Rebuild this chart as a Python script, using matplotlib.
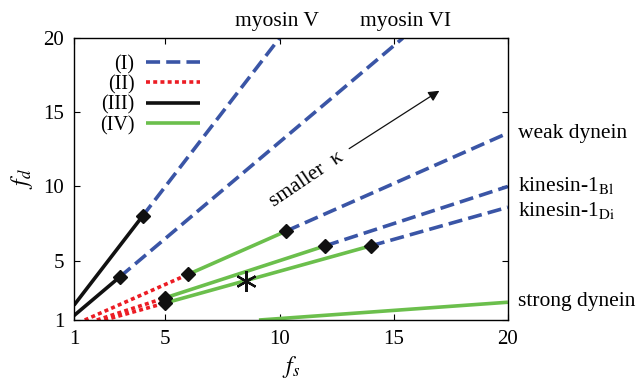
import matplotlib
matplotlib.use("Agg")
import matplotlib.pyplot as plt
from matplotlib.lines import Line2D

plt.rcParams['font.family'] = ['Liberation Serif', 'DejaVu Serif']
plt.rcParams['mathtext.fontset'] = 'stix'

BLUE = '#3a55a6'
RED = '#ec1c24'
BLACK = '#111111'
GREEN = '#6bbf4c'

# regime styles: (I) dashed blue, (II) dotted red, (III) solid black, (IV) solid green
styles = {
    'I': dict(color=BLUE, linestyle=(0, (3.9, 1.7))),
    'II': dict(color=RED, linestyle=(0, (1.1, 0.9))),
    'III': dict(color=BLACK, linestyle='-'),
    'IV': dict(color=GREEN, linestyle='-'),
}

# segments of each motor line: (regime, fs values, fd values)
myosin_v = [('III', [1, 4], [2, 8]), ('I', [4, 10], [8, 20])]
myosin_vi = [('III', [1, 3], [1.3, 3.9]), ('I', [3, 15.4], [3.9, 20])]
weak_dynein = [('II', [1.47, 6], [1, 4.08]), ('IV', [6, 10.3], [4.08, 7.0]),
               ('I', [10.3, 20], [7.0, 13.6])]
kinesin_bl = [('II', [2, 5], [1, 2.5]), ('IV', [5, 12], [2.5, 6.0]),
              ('I', [12, 20], [6.0, 10.0])]
kinesin_di = [('II', [2.33, 5], [1, 2.15]), ('IV', [5, 14], [2.15, 6.0]),
              ('I', [14, 20], [6.0, 8.6])]
strong_dynein = [('IV', [9.1, 20], [1, 2.2])]

# regime transition points
trans_fs = [4, 3, 6, 10.3, 5, 12, 5, 14]
trans_fd = [8, 3.9, 4.08, 7.0, 2.5, 6.0, 2.15, 6.0]

# labels
right_labels = ['weak dynein', r'kinesin-1$_{\rm Bl}$', r'kinesin-1$_{\rm Di}$', 'strong dynein']
right_label_y = [13.6, 10.1, 8.4, 2.25]
top_labels = ['myosin V', 'myosin VI']
top_label_x = [9.9, 15.5]

ticks = [1, 5, 10, 15, 20]

fig = plt.figure(figsize=(6.38, 3.81), dpi=100)
ax = fig.add_axes([0.116, 0.160, 0.680, 0.740])

for motor in [myosin_v, myosin_vi, weak_dynein, kinesin_bl, kinesin_di, strong_dynein]:
    for regime, xs, ys in motor:
        ax.plot(xs, ys, lw=2.6, solid_capstyle='butt', dash_capstyle='butt',
                **styles[regime])

ax.plot(trans_fs, trans_fd, 'D', color=BLACK, ms=7.3, ls='none', zorder=5)

# asterisk
ax.plot([8.55], [3.6], marker=(6, 2, 0), ms=15, mew=1.6, color=BLACK, ls='none', zorder=6)

# arrow and text
ax.annotate('', xy=(17.0, 16.45), xytext=(13.05, 12.55),
            arrowprops=dict(arrowstyle='-|>', color=BLACK, lw=0.9,
                            mutation_scale=16, shrinkA=0, shrinkB=0))
ax.text(11.2, 10.45, 'smaller  κ', fontsize=15.5, rotation=34, ha='center', va='center',
        rotation_mode='anchor')

for lab, yv in zip(right_labels, right_label_y):
    ax.text(20.45, yv, lab, fontsize=15.5, ha='left', va='center', clip_on=False)
for lab, xv in zip(top_labels, top_label_x):
    ax.text(xv, 21.12, lab, fontsize=15.5, ha='center', va='center', clip_on=False)

ax.set_xlim(1, 20)
ax.set_ylim(1, 20)
ax.set_xticks(ticks)
ax.set_yticks(ticks)
ax.tick_params(direction='in', top=True, right=True, length=4, labelsize=15, pad=7,
               width=0.8)
for s in ax.spines.values():
    s.set_linewidth(1.0)
ax.set_xlabel(r'$f_s$', fontsize=17, labelpad=4)
ax.set_ylabel(r'$f_d$', fontsize=17, labelpad=6)

handles = [Line2D([0], [0], lw=2.6, solid_capstyle='butt', dash_capstyle='butt', **styles[k])
           for k in ['I', 'II', 'III', 'IV']]
ax.legend(handles, ['(I)', '(II)', '(III)', '(IV)'], loc='upper left',
          bbox_to_anchor=(0.06, 0.94), frameon=False, markerfirst=False,
          fontsize=14.5, handlelength=2.7, handletextpad=0.55, labelspacing=0.05,
          borderaxespad=0, borderpad=0)

fig.savefig('out.png', dpi=100)
